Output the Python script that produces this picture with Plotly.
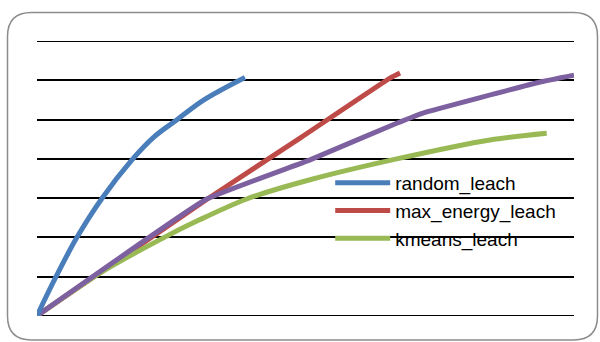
import plotly.graph_objects as go

# Data (arbitrary units, gridline spacing = 1)
random_x = [0, 0.354, 0.739, 1.205, 1.76, 2.18, 2.601, 3.102, 3.873]
random_y = [0, 0.996, 1.987, 2.985, 3.96, 4.56, 4.992, 5.500, 6.077]

max_energy_x = [0, 3.166, 4.898, 6.574, 6.76]
max_energy_y = [0, 2.97, 4.53, 6.06, 6.19]

kmeans_x = [0, 1.173, 2.352, 3.035, 3.905, 5.084, 6.698, 8.436, 9.492]
kmeans_y = [0, 1.09, 1.987, 2.452, 2.978, 3.468, 4.00, 4.484, 4.654]

fourth_x = [0, 3.160, 5.084, 6.698, 7.188, 9.367, 10.0]
fourth_y = [0, 2.976, 3.976, 4.909, 5.17, 5.96, 6.135]

y_min, y_max = 0, 7

fig = go.Figure()
fig.add_trace(go.Scatter(x=max_energy_x, y=max_energy_y, mode="lines", name="max_energy_leach",
                         line=dict(color="#BE4B48", width=5, shape="spline", smoothing=0.5), legendrank=2))
fig.add_trace(go.Scatter(x=kmeans_x, y=kmeans_y, mode="lines", name="kmeans_leach",
                         line=dict(color="#98B954", width=5, shape="spline", smoothing=0.8), legendrank=3))
fig.add_trace(go.Scatter(x=fourth_x, y=fourth_y, mode="lines", name="series4", showlegend=False,
                         line=dict(color="#7D60A0", width=5, shape="spline", smoothing=0.3)))
fig.add_trace(go.Scatter(x=random_x, y=random_y, mode="lines", name="random_leach",
                         line=dict(color="#4A7EBB", width=5, shape="spline", smoothing=1.0), legendrank=1))

# boundary gridlines (plotly skips gridlines at the range edges)
for yv in (y_min, y_max):
    fig.add_shape(type="line", xref="paper", yref="y", x0=0, x1=1, y0=yv, y1=yv,
                  line=dict(color="black", width=1.5), layer="below")

# rounded outer border (paper coords: plot area px 37..574 x, 41..316 y)
def px2paper(px, py):
    return (px - 37) / 537.0, (316.5 - py) / 275.5

L, R, T, B, r = 7.5, 597.5, 12.5, 340.5, 24
pts = [("M", L + r, T), ("L", R - r, T), ("Q", R, T, R, T + r), ("L", R, B - r), ("Q", R, B, R - r, B),
       ("L", L + r, B), ("Q", L, B, L, B - r), ("L", L, T + r), ("Q", L, T, L + r, T)]
path = ""
for p in pts:
    cmd = p[0]
    coords = p[1:]
    s = []
    for i in range(0, len(coords), 2):
        xx, yy = px2paper(coords[i], coords[i + 1])
        s.append(f"{xx:.5f},{yy:.5f}")
    path += cmd + " ".join(s) + " "
path += "Z"
fig.add_shape(type="path", path=path, xref="paper", yref="paper",
              line=dict(color="#8C8C8C", width=1.5), layer="below")

fig.update_layout(
    width=600, height=342,
    margin=dict(l=37, r=26, t=41, b=26),
    paper_bgcolor="white", plot_bgcolor="white",
    xaxis=dict(range=[0, 10], showgrid=False, zeroline=False, showticklabels=False, ticks="", showline=False),
    yaxis=dict(range=[y_min - 0.006, y_max + 0.006], dtick=1, tick0=0, showgrid=True, gridcolor="black",
               gridwidth=1.5, zeroline=False, showticklabels=False, ticks="", showline=False),
    showlegend=True,
    legend=dict(x=0.546, y=0.553, xanchor="left", yanchor="top", bgcolor="rgba(0,0,0,0)",
                font=dict(family="Liberation Sans", size=19, color="black"),
                itemwidth=55, tracegroupgap=0),
    font=dict(family="Liberation Sans"),
)

fig.write_html("out.html", config={"displayModeBar": False},
               post_script="document.body.style.margin='0';document.body.style.overflow='hidden';")
